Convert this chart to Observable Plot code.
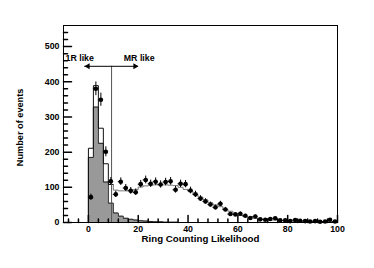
<!DOCTYPE html>
<html><head><meta charset="utf-8">
<script src="https://cdn.jsdelivr.net/npm/d3@7"></script>
<script src="https://cdn.jsdelivr.net/npm/@observablehq/plot@0.6"></script>
<style>body{margin:0;background:#fff}svg{display:block}</style>
</head><body><div id="chart"></div>
<script>
// Histogram bins (left edges, width 2)
const binLeft = [0,2,4,6,8,10,12,14,16,18,20,22,24,26,28,30,32,34,36,38,40,42,44,46,48,50,52,54,56,58,60,62,64,66,68,70,72,74,76,78,80,82,84,86,88,90,92,94,96,98];
const binRight = 100;
// MC total (open histogram)
const mcTotal = [211,389,268,167,108,92,90,90,91,94,101,104,106,107,107,107,106,105,100,94,88,80,72,64,56,50,45,38,32,25,20,17,14,12,10,8,7,7,6,5,5,4,4,4,3,3,3,3,2,2];
// MC single-ring component (filled histogram)
const mcOneRing = [185,328,225,115,55,27,18,12,9,7,5,4,3,2,2,1,1,1,0,0,0,0,0,0,0,0,0,0,0,0,0,0,0,0,0,0,0,0,0,0,0,0,0,0,0,0,0,0,0,0];
// Data points (bin centres)
const dataX = [1,3,5,7,9,11,13,15,17,19,21,23,25,27,29,31,33,35,37,39,41,43,45,47,49,51,53,55,57,59,61,63,65,67,69,71,73,75,77,79,81,83,85,87,89,91,93,95,97,99];
const dataCounts = [72,380,349,201,117,80,116,98,90,86,109,121,110,116,108,115,117,93,110,109,91,80,68,60,51,43,53,37,24,23,25,19,13,17,9,8,10,12,6,6,4,7,5,4,3,4,2,3,8,3];
const dataHalfWidth = 1;
// Axes
const xMajorTicks = [0,20,40,60,80,100];
const xMinorTicks = [-8,-4,4,8,12,16,24,28,32,36,44,48,52,56,64,68,72,76,84,88,92,96];
const yMajorTicks = [0,100,200,300,400,500];
const yMinorTicks = [20,40,60,80,120,140,160,180,220,240,260,280,320,340,360,380,420,440,460,480,520,540];
const xDomain = [-10, 100];
const yDomain = [0, 560];
const xTitle = "Ring Counting Likelihood";
const yTitle = "Number of events";
const yTitleStart = 160;
// Annotation
const cutValue = 9.3;
const arrowLevel = 444;
const arrowLeft = -1.5, arrowRight = 20;
const arrowHeads = [{x: -0.2, rot: -90}, {x: 18.75, rot: 90}];
const labelTexts = ["1R like", "MR like"];
const labelX = [-9.2, 14.2];
const labelY = 459;

const FONT = "'Liberation Sans', Arial, Helvetica, sans-serif";

const totalBlack = [{x: binLeft[0], y: 0}];
const totalGrey = [];
binLeft.forEach((b, i) => {
  if (b < 10) totalBlack.push({x: b, y: mcTotal[i]});
  else totalGrey.push({x: b, y: mcTotal[i]});
});
totalBlack.push({x: binLeft[5], y: mcTotal[4]});
totalGrey.unshift({x: binLeft[5], y: mcTotal[4]});
totalGrey.push({x: binRight, y: mcTotal[mcTotal.length - 1]});

const oneRing = [{x: binLeft[0], y: 0}, ...binLeft.map((b, i) => ({x: b, y: mcOneRing[i]})), {x: binRight, y: 0}];
const points = dataX.map((x, i) => ({x, y: dataCounts[i], e: Math.sqrt(dataCounts[i])}));
const labels = labelTexts.map((t, i) => ({t, x: labelX[i], y: labelY}));

const tickShape = {draw(context, l) { context.moveTo(0, 0); context.lineTo(0, -l); }};

const chart = Plot.plot({
  width: 374, height: 268,
  marginLeft: 63, marginRight: 37, marginTop: 25, marginBottom: 46,
  x: {domain: xDomain},
  y: {domain: yDomain},
  style: {fontFamily: FONT, background: "white", color: "black"},
  marks: [
    Plot.areaY(oneRing, {x: "x", y: "y", curve: "step-after", fill: "#999"}),
    Plot.line(oneRing, {x: "x", y: "y", curve: "step-after", stroke: "#222", strokeWidth: 1}),
    Plot.line(totalBlack, {x: "x", y: "y", curve: "step-after", stroke: "#111", strokeWidth: 1}),
    Plot.line(totalGrey, {x: "x", y: "y", curve: "step-after", stroke: "#777", strokeWidth: 1}),
    Plot.ruleX([cutValue], {y1: 0, y2: arrowLevel, stroke: "#555", strokeWidth: 1}),
    Plot.ruleY([arrowLevel], {x1: arrowLeft, x2: arrowRight, stroke: "black", strokeWidth: 1}),
    Plot.dot(arrowHeads, {x: "x", y: arrowLevel, symbol: "triangle", rotate: "rot", r: 2.2, fill: "black", stroke: null}),
    Plot.text(labels, {x: "x", y: "y", text: "t", textAnchor: "start", lineAnchor: "bottom", fontSize: 8.8, fontWeight: "bold", fill: "black"}),
    Plot.ruleX(points, {x: "x", y1: d => d.y - d.e, y2: d => d.y + d.e, stroke: "black", strokeWidth: 1}),
    Plot.ruleY(points, {y: "y", x1: d => d.x - dataHalfWidth, x2: d => d.x + dataHalfWidth, stroke: "black", strokeWidth: 1}),
    Plot.dot(points, {x: "x", y: "y", r: 2.3, fill: "black", stroke: null}),
    Plot.frame({stroke: "black", strokeWidth: 1}),
    Plot.vector(xMajorTicks, {x: d => d, frameAnchor: "bottom", length: 7, anchor: "start", shape: tickShape, stroke: "black"}),
    Plot.vector(xMinorTicks, {x: d => d, frameAnchor: "bottom", length: 3.5, anchor: "start", shape: tickShape, stroke: "black"}),
    Plot.vector(yMajorTicks, {y: d => d, frameAnchor: "left", length: 8, rotate: 90, anchor: "start", shape: tickShape, stroke: "black"}),
    Plot.vector(yMinorTicks, {y: d => d, frameAnchor: "left", length: 4, rotate: 90, anchor: "start", shape: tickShape, stroke: "black"}),
    Plot.axisX({ticks: xMajorTicks, tickSize: 0, tickPadding: 3, tickFormat: d => String(d), fontSize: 8.8, fontWeight: "bold", label: null}),
    Plot.axisY({ticks: yMajorTicks, tickSize: 0, tickPadding: 4, tickFormat: d => String(d), fontSize: 8.8, fontWeight: "bold", label: null}),
    Plot.text([xTitle], {text: d => d, frameAnchor: "bottom", dy: 19.7, lineAnchor: "bottom", fontSize: 9.7, fontWeight: "bold", fill: "black"}),
    Plot.text([yTitle], {text: d => d, y: yTitleStart, frameAnchor: "left", rotate: -90, dx: -43, textAnchor: "start", lineAnchor: "middle", fontSize: 9.2, fontWeight: "bold", fill: "black"})
  ]
});
document.getElementById("chart").append(chart);
</script>
</body></html>
